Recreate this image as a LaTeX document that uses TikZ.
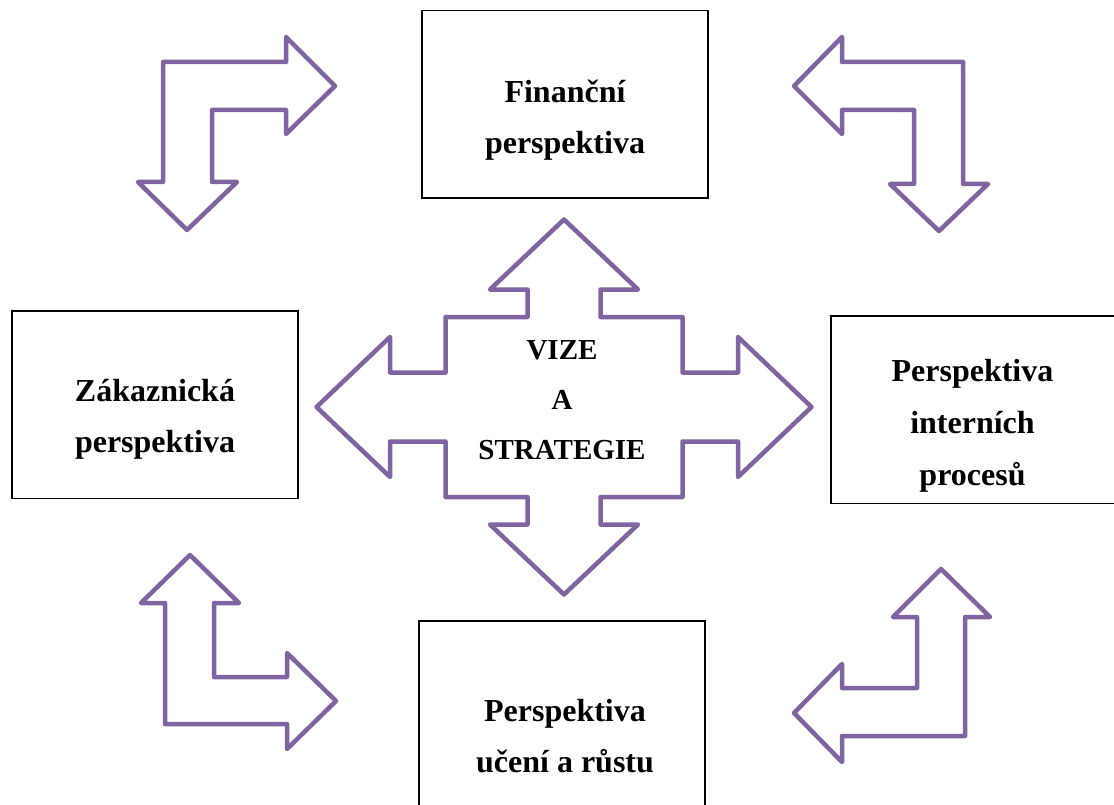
\documentclass[tikz,border=0pt]{standalone}
\usepackage{fontspec}
\setmainfont{Liberation Serif}
\definecolor{vpurple}{HTML}{8064A2}
\tikzset{
	blockarrow/.style={draw=vpurple,line width=4.5pt,line join=round},
	perspbox/.style={draw=black,line width=1.6pt,inner sep=0pt,minimum width=286pt,minimum height=187.6pt},
	persptext/.style={font=\bfseries\fontsize{32}{51}\selectfont,align=center},
	visiontext/.style={font=\bfseries\fontsize{29}{50}\selectfont,align=center}
}
\begin{document}
\begin{tikzpicture}[x=1pt,y=-1pt]
		\useasboundingbox (0,0) rectangle (1114,805);
		\node[perspbox] (fin) at (565,104.5) {};
		\node[perspbox] (zak) at (155,404.5) {};
		\node[perspbox] (int) at (973.7,409.5) {};
		\node[perspbox] (uce) at (562.2,714.5) {};
		\node[persptext] (fintext) at (565,119.8) {Finanční\\perspektiva};
		\node[persptext] (zaktext) at (155,419) {Zákaznická\\perspektiva};
		\node[persptext,font=\bfseries\fontsize{32}{52}\selectfont] (inttext) at (972.5,425.6) {Perspektiva\\interních\\procesů};
		\node[persptext] (ucetext) at (565,736.5) {Perspektiva\\učení a růstu};
		\draw[blockarrow] (163,62) -- (286,62) -- (286,37) -- (335,86) -- (286,134) -- (286,110) -- (212,110) -- (212,182) -- (237,182) -- (187,230) -- (138,182) -- (163,182) -- cycle;
		\draw[blockarrow] (842,62) -- (963,62) -- (963,184) -- (988,184) -- (939,231) -- (890,184) -- (914,184) -- (914,110) -- (842,110) -- (842,134) -- (794,86) -- (842,37) -- cycle;
		\draw[blockarrow] (165,603) -- (141,603) -- (190,555) -- (239,603) -- (214,603) -- (214,677) -- (287,677) -- (287,653) -- (336,701) -- (287,749) -- (287,724) -- (165,724) -- cycle;
		\draw[blockarrow] (917,617) -- (893,617) -- (941,569) -- (990,617) -- (965,617) -- (965,736) -- (842,736) -- (842,762) -- (794,713) -- (842,664) -- (842,688) -- (917,688) -- cycle;
		\begin{scope}[shift={(564,407)}]
			\draw[blockarrow] (0,-187.5) -- (74,-117.5) -- (36.5,-117.5) -- (36.5,-90) -- (118.5,-90) -- (118.5,-34.5) -- (174,-34.5) -- (174,-70) -- (247.5,0) -- (174,70) -- (174,34.5) -- (118.5,34.5) -- (118.5,90) -- (36.5,90) -- (36.5,117.5) -- (74,117.5) -- (0,187.5) -- (-74,117.5) -- (-36.5,117.5) -- (-36.5,90) -- (-118.5,90) -- (-118.5,34.5) -- (-174,34.5) -- (-174,70) -- (-247.5,0) -- (-174,-70) -- (-174,-34.5) -- (-118.5,-34.5) -- (-118.5,-90) -- (-36.5,-90) -- (-36.5,-117.5) -- (-74,-117.5) -- cycle;
		\end{scope}
		\node[visiontext] (vize) at (562,400.5) {VIZE\\A\\STRATEGIE};
	\end{tikzpicture}
\end{document}
